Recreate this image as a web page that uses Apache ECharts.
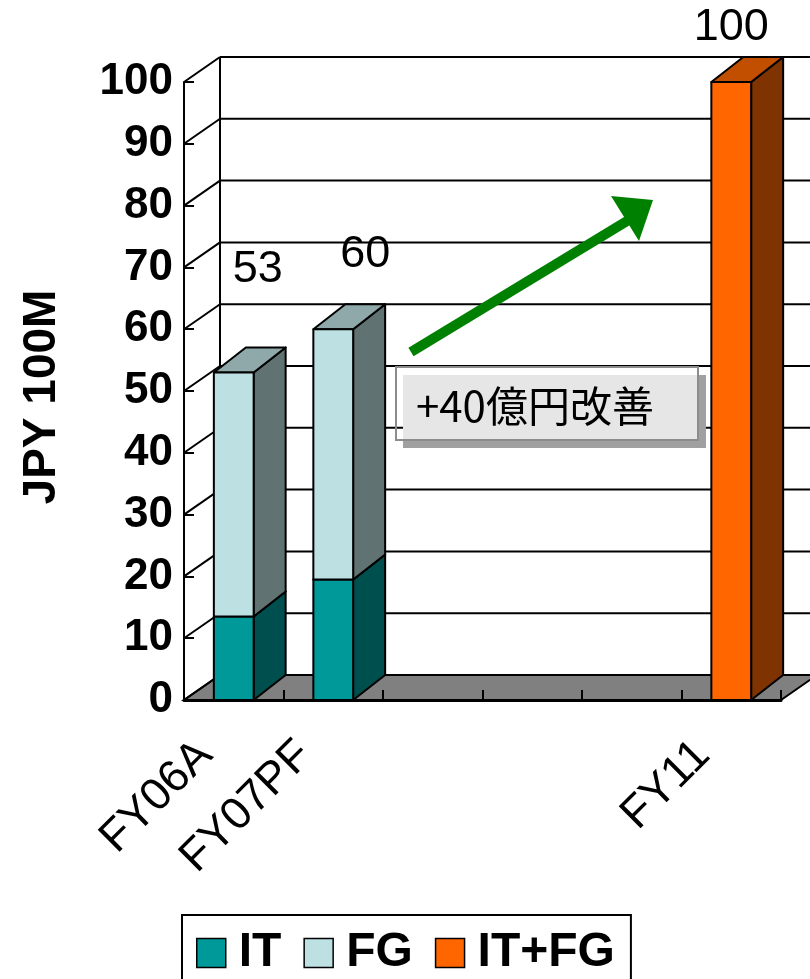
<!DOCTYPE html>
<html>
<head>
<meta charset="utf-8">
<script src="https://cdn.jsdelivr.net/npm/echarts@6/dist/echarts.min.js"></script>
<style>
  html, body { margin: 0; padding: 0; background: #ffffff; }
  #chart { width: 810px; height: 979px; }
</style>
</head>
<body>
<div id="chart"></div>
<script>
// Fiscal years on the category axis (unlabelled years keep the spacing)
const categories = ['FY06A', 'FY07PF', '', '', '', 'FY11'];
// Values in JPY 100M
const itValues   = [13.5, 19.5, null, null, null, null];
const fgValues   = [39.5, 40.5, null, null, null, null];
const itFgValues = [null, null, null, null, null, 100];
// Value axis ticks
const yMin = 0, yMax = 100, yInterval = 10;
const yAxisTitle = 'JPY 100M';
const annotationText = '+40億円改善';
const seriesNames = ['IT', 'FG', 'IT+FG'];

// Depth of the pseudo-3D box and of the bars (pixels)
const WALL_DX = 36, WALL_DY = -25;
const BAR_DX = 32, BAR_DY = -25;
const BAR_RATIO = 0.4;
const FONT = 'Liberation Sans, Arial, sans-serif';

// Where each total label sits relative to the bar's front top edge
const totalLabelOffsets = [[24, -103], [32, -75], null, null, null, [0, -54]];

const faces = {
  IT:      { front: '#009999', side: '#004f4f', top: '#006b6b' },
  FG:      { front: '#bde0e3', side: '#607272', top: '#8fa8aa' },
  'IT+FG': { front: '#ff6600', side: '#7f3300', top: '#c24e00' }
};

// [category index, base, top] items for the stacked segments
const itData = [], fgData = [], itFgData = [];
categories.forEach((c, i) => {
  if (itValues[i] != null) itData.push([i, 0, itValues[i]]);
  if (fgValues[i] != null) {
    const base = itValues[i] || 0;
    fgData.push([i, base, base + fgValues[i]]);
  }
  if (itFgValues[i] != null) itFgData.push([i, 0, itFgValues[i]]);
});

function barRenderer(col, labelled) {
  return function (params, api) {
    const cat = api.value(0), base = api.value(1), top = api.value(2);
    const pb = api.coord([cat, base]);
    const pt = api.coord([cat, top]);
    const w = api.size([1, 0])[0] * BAR_RATIO;
    const x0 = pb[0] - w / 2, x1 = pb[0] + w / 2, yb = pb[1], yt = pt[1];
    const line = { stroke: '#000', lineWidth: 2, lineJoin: 'round' };
    const children = [
      { type: 'polygon', shape: { points: [[x1, yt], [x1 + BAR_DX, yt + BAR_DY], [x1 + BAR_DX, yb + BAR_DY], [x1, yb]] },
        style: Object.assign({ fill: col.side }, line) },
      { type: 'polygon', shape: { points: [[x0, yt], [x1, yt], [x1 + BAR_DX, yt + BAR_DY], [x0 + BAR_DX, yt + BAR_DY]] },
        style: Object.assign({ fill: col.top }, line) },
      { type: 'rect', shape: { x: x0, y: yt, width: w, height: yb - yt },
        style: Object.assign({ fill: col.front }, line) }
    ];
    const off = totalLabelOffsets[cat];
    if (labelled && off) {
      children.push({
        type: 'text', x: pt[0] + off[0], y: pt[1] + off[1],
        style: { text: String(top), fontSize: 45, fontFamily: FONT, fill: '#000', align: 'center', verticalAlign: 'middle' }
      });
    }
    return { type: 'group', children: children };
  };
}

// Floor, side wall and back wall with its gridlines
function frameRenderer(params, api) {
  const cs = params.coordSys;
  const left = cs.x, right = cs.x + cs.width;
  const y0 = api.coord([0, yMin])[1];
  const yTop = api.coord([0, yMax])[1];
  const line = { stroke: '#000', lineWidth: 2 };
  const children = [];
  children.push({
    type: 'polygon',
    shape: { points: [[left, y0], [right, y0], [right + WALL_DX, y0 + WALL_DY], [left + WALL_DX, y0 + WALL_DY]] },
    style: { fill: '#808080', stroke: '#000', lineWidth: 2 }
  });
  for (let v = yMin; v <= yMax; v += yInterval) {
    const y = api.coord([0, v])[1];
    children.push({ type: 'line', shape: { x1: left, y1: y, x2: left + WALL_DX, y2: y + WALL_DY }, style: line });
    if (v > yMin) {
      children.push({ type: 'line', shape: { x1: left + WALL_DX, y1: y + WALL_DY, x2: right + WALL_DX, y2: y + WALL_DY }, style: line });
    }
  }
  children.push({ type: 'line', shape: { x1: left + WALL_DX, y1: yTop + WALL_DY, x2: left + WALL_DX, y2: y0 + WALL_DY }, style: line });
  return { type: 'group', children: children };
}

const chart = echarts.init(document.getElementById('chart'), null, { renderer: 'canvas' });

chart.setOption({
  animation: false,
  backgroundColor: '#ffffff',
  grid: { left: 184, top: 82, width: 597, height: 618, containLabel: false },
  xAxis: {
    type: 'category',
    data: categories,
    boundaryGap: true,
    z: 2,
    axisLine: { show: true, lineStyle: { color: '#000', width: 3 } },
    axisTick: { show: true, inside: true, length: 10, lineStyle: { color: '#000', width: 2 } },
    axisLabel: {
      interval: 0, rotate: 45, fontSize: 45, fontFamily: FONT, color: '#000',
      margin: 20, padding: [0, 40, 0, 0]
    },
    splitLine: { show: false }
  },
  yAxis: {
    type: 'value',
    min: yMin, max: yMax, interval: yInterval,
    z: 2,
    axisLine: { show: true, lineStyle: { color: '#000', width: 2 } },
    axisTick: { show: true, inside: true, length: 10, lineStyle: { color: '#000', width: 2 } },
    axisLabel: { fontSize: 44, fontWeight: 'bold', fontFamily: FONT, color: '#000', margin: 11, padding: [12, 0, 0, 0] },
    splitLine: { show: false }
  },
  legend: {
    data: seriesNames,
    selectedMode: false,
    left: 182, top: 915,
    orient: 'horizontal',
    icon: 'rect',
    itemWidth: 29, itemHeight: 29, itemGap: 22,
    borderColor: '#000', borderWidth: 2,
    padding: [14, 16, 12, 14],
    itemStyle: { borderColor: '#000', borderWidth: 1.5 },
    textStyle: { fontSize: 48, fontWeight: 'bold', fontFamily: FONT, color: '#000', padding: [0, 0, 0, 8] }
  },
  series: [
    { type: 'custom', name: 'frame', silent: true, z: 1, renderItem: frameRenderer, data: [[0, 0]] },
    { type: 'custom', name: seriesNames[0], z: 3, itemStyle: { color: faces.IT.front },
      renderItem: barRenderer(faces.IT, false), data: itData },
    { type: 'custom', name: seriesNames[1], z: 3, itemStyle: { color: faces.FG.front },
      renderItem: barRenderer(faces.FG, true), data: fgData },
    { type: 'custom', name: seriesNames[2], z: 3, itemStyle: { color: faces['IT+FG'].front },
      renderItem: barRenderer(faces['IT+FG'], true), data: itFgData }
  ],
  graphic: [
    {
      type: 'text', x: 42, y: 397, rotation: Math.PI / 2,
      style: { text: yAxisTitle, fontSize: 46, fontWeight: 'bold', fontFamily: FONT, fill: '#000', align: 'center', verticalAlign: 'middle' }
    },
    // growth arrow
    { type: 'line', z: 10, shape: { x1: 411, y1: 352, x2: 632, y2: 218 }, style: { stroke: '#008000', lineWidth: 10 } },
    { type: 'polygon', z: 10, shape: { points: [[653, 200], [611, 196], [639, 241]] }, style: { fill: '#008000' } },
    // annotation box with drop shadow
    { type: 'rect', z: 10, shape: { x: 403, y: 375, width: 303, height: 73 }, style: { fill: '#a0a0a0' } },
    { type: 'rect', z: 10, shape: { x: 403, y: 375, width: 295, height: 65 }, style: { fill: '#e6e6e6' } },
    { type: 'rect', z: 10, shape: { x: 396, y: 367, width: 302, height: 73 }, style: { fill: 'none', stroke: '#8c8c8c', lineWidth: 2 } },
    {
      type: 'text', z: 11, x: 416, y: 406,
      style: {
        text: annotationText, fontSize: 42, fontFamily: 'Noto Sans CJK JP, sans-serif', fill: '#000', verticalAlign: 'middle',
        textShadowColor: 'rgba(0,0,0,0.06)', textShadowOffsetX: 16, textShadowOffsetY: 10
      }
    }
  ]
});
</script>
</body>
</html>
